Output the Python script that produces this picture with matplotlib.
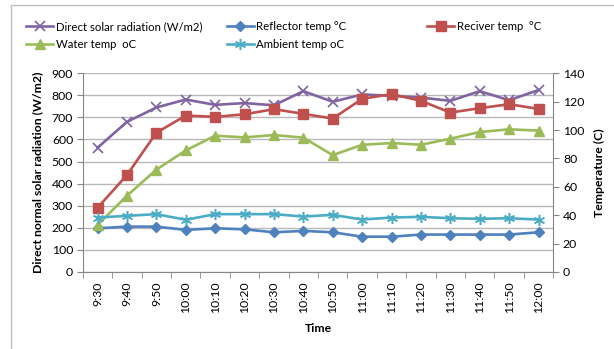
import numpy as np
import matplotlib
matplotlib.use("Agg")
import matplotlib.pyplot as plt
from matplotlib.lines import Line2D

times = ["9:30", "9:40", "9:50", "10:00", "10:10", "10:20", "10:30", "10:40",
         "10:50", "11:00", "11:10", "11:20", "11:30", "11:40", "11:50", "12:00"]

# W/m2 on the left axis
solar = [563, 680, 745, 781, 757, 765, 755, 819, 771, 804, 798, 790, 775, 819, 778, 824]
# degrees C on the right axis
reflector = [30.7, 31.9, 31.9, 29.6, 30.7, 30.0, 27.9, 28.9, 27.9, 24.8, 24.8, 26.3, 26.3, 26.3, 26.3, 27.9]
receiver = [45.2, 68.3, 98.1, 110.2, 109.3, 111.1, 114.7, 111.4, 108.1, 122.0, 125.3, 120.6, 112.3, 115.4, 118.2, 114.9]
water = [33.1, 53.7, 72.1, 85.6, 96.0, 94.8, 96.5, 94.6, 82.3, 89.6, 90.8, 89.6, 93.9, 98.6, 100.5, 99.6]
ambient = [38.3, 39.5, 40.7, 36.7, 40.7, 40.7, 40.7, 39.0, 40.2, 36.9, 38.3, 38.8, 37.8, 37.4, 37.8, 36.9]

plt.rcParams['font.family'] = ['Lato', 'DejaVu Sans']
plt.rcParams['font.size'] = 8.8

purple = "#8064A2"
blue = "#4F81BD"
red = "#C0504D"
green = "#9BBB59"
cyan = "#4BACC6"
grey = "#868686"

fig = plt.figure(figsize=(6.14, 3.49), dpi=100)
ax = fig.add_axes([0.135, 0.221, 0.766, 0.569])
ax2 = ax.twinx()

x = np.arange(len(times))
lw = 1.9

ax.plot(x, solar, color=purple, lw=lw, marker="x", ms=7, mew=1.2, label="Direct solar radiation (W/m2)")
ax2.plot(x, reflector, color=blue, lw=lw, marker="D", ms=5, label="Reflector temp \u00b0C")
ax2.plot(x, receiver, color=red, lw=lw, marker="s", ms=7.5, label="Reciver temp  \u00b0C")
ax2.plot(x, water, color=green, lw=lw, marker="^", ms=7.5, label="Water temp  oC")
ax2.plot(x, ambient, color=cyan, lw=lw, marker=(6, 2, 0), ms=8, mew=1.1, label="Ambient temp oC")

ax.set_ylim(0, 900)
ax.set_yticks(range(0, 901, 100))
ax2.set_ylim(0, 140)
ax2.set_yticks(range(0, 141, 20))
ax.set_xlim(-0.5, len(times) - 0.5)
ax.set_xticks(x)
ax.set_xticklabels(times, rotation=90)
ax.set_xticks(np.arange(-0.5, len(times), 1), minor=True)
ax.tick_params(axis="x", which="major", length=0, pad=7)
ax.tick_params(axis="x", which="minor", length=4, color=grey)
ax.tick_params(axis="y", length=4, color=grey, pad=3)
ax2.tick_params(axis="y", length=4, color=grey, pad=3)

ax.grid(axis="y", color="#B8B8B8", lw=1.0)
ax.set_axisbelow(True)
for a in (ax, ax2):
    a.spines["top"].set_visible(False)
    for s in ("left", "right", "bottom"):
        a.spines[s].set_color(grey)
ax.spines["right"].set_visible(False)
ax2.spines["left"].set_visible(False)
ax2.spines["bottom"].set_visible(False)

ax.set_ylabel("Direct normal solar radiation (W/m2)", fontweight="bold", labelpad=6)
ax2.set_ylabel("Temperature (C)", fontweight="bold", labelpad=7)
ax.set_xlabel("Time", fontweight="bold", labelpad=7)

# legend laid out in three columns like the original
h1, l1 = ax.get_legend_handles_labels()
h2, l2 = ax2.get_legend_handles_labels()
hs = h1 + h2
ls = l1 + l2
cols = [([hs[0], hs[3]], [ls[0], ls[3]], 0.035),
        ([hs[1], hs[4]], [ls[1], ls[4]], 0.362),
        ([hs[2]], [ls[2]], 0.688)]
for hh, ll, xpos in cols:
    fig.legend(hh, ll, loc="upper left", bbox_to_anchor=(xpos, 0.952), frameon=False,
               fontsize=8.2, handlelength=2.4, handletextpad=0.2, labelspacing=0.55,
               borderaxespad=0)

# chart frame (top and left edges visible)
fig.add_artist(Line2D([0.018, 1.0], [0.986, 0.986], color="#BFBFBF", lw=1.0))
fig.add_artist(Line2D([0.018, 0.018], [0.0, 0.986], color="#BFBFBF", lw=1.0))

fig.savefig("out.png", dpi=100)
